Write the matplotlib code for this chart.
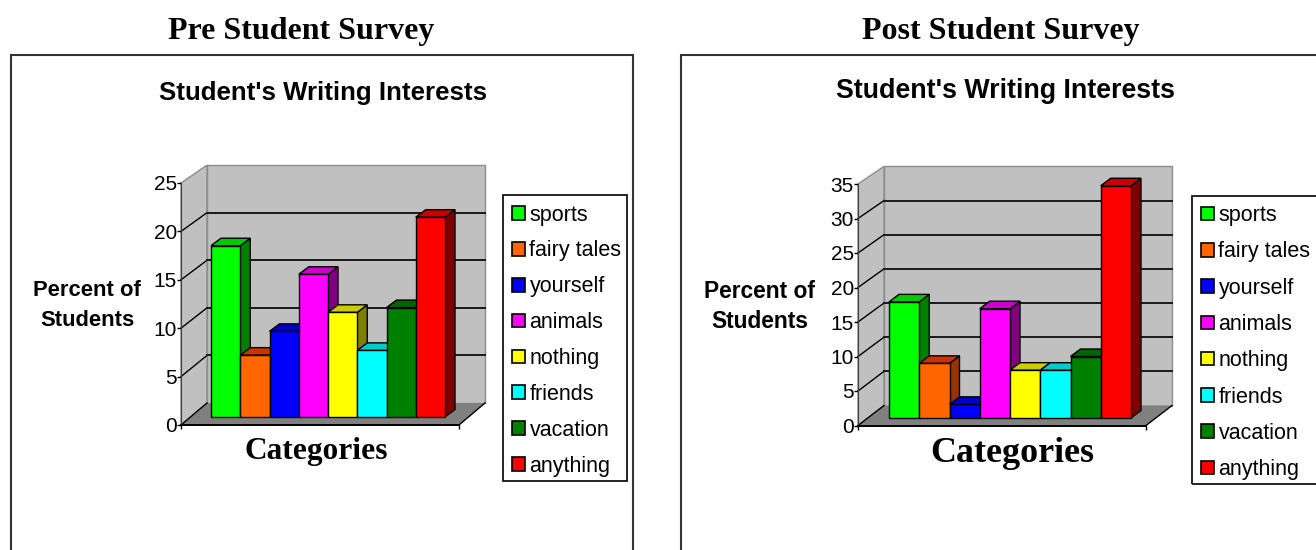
import matplotlib
matplotlib.use('Agg')
import matplotlib.pyplot as plt
from matplotlib.patches import Patch, Polygon, Rectangle

W, H = 1316, 550

categories = ['sports', 'fairy tales', 'yourself', 'animals', 'nothing', 'friends', 'vacation', 'anything']
pre_values = [18, 6.5, 9, 15, 11, 7, 11.5, 21]
post_values = [17, 8, 2, 16, 7, 7, 9, 34]
pre_ticks = [0, 5, 10, 15, 20, 25]
post_ticks = [0, 5, 10, 15, 20, 25, 30, 35]

front_colors = ['#00FF00', '#FF6600', '#0000FF', '#FF00FF', '#FFFF00', '#00FFFF', '#008000', '#FF0000']
top_colors = ['#00CC00', '#CC3300', '#0000CC', '#CC00CC', '#CCCC00', '#00CCCC', '#006600', '#CC0000']
side_colors = ['#008000', '#993300', '#000080', '#800080', '#808000', '#008080', '#004000', '#800000']

SANS = 'Liberation Sans'
SERIF = 'Liberation Serif'

fig = plt.figure(figsize=(W / 100, H / 100), dpi=100, facecolor='white')


def fx(x):
    return x / W


def fy(y):
    return 1 - y / H


def box(x0, y0, x1, y1, color, lw):
    fig.add_artist(Rectangle((fx(x0), fy(y1)), (x1 - x0) / W, (y1 - y0) / H, transform=fig.transFigure,
                             fc='none', ec=color, lw=lw, zorder=-1))


def chart(values, ticks, L, R, y0, ytop, dx, dy, k, bar_l, bar_r, base, leg_x, leg_y, leg_gap):
    n = len(values)
    w = (bar_r - bar_l) / n
    ox = dx * (y0 - base) / dy  # bar plane sits part way back on the floor
    oy = y0 - base
    ax = fig.add_axes([fx(L), fy(y0), (R - L) / W, (y0 - ytop) / H])
    ax.patch.set_visible(False)
    xmin = (L + ox - bar_l) / w - 0.5
    xmax = (R + ox - bar_l) / w - 0.5
    ymax = ticks[-1]
    ax.set_xlim(xmin, xmax)
    ax.set_ylim(0, ymax)
    ux = 1 / w
    uy = ymax / (y0 - ytop)
    bx, by = dx * ux, dy * uy

    # walls and floor, k is the slight shrink of the back wall
    ax.add_patch(Polygon([(xmin + bx, by), (xmax + bx, by), (xmax + bx, ymax * k + by), (xmin + bx, ymax * k + by)],
                         fc='#C0C0C0', ec='#8C8C8C', lw=1, clip_on=False, zorder=1))
    ax.add_patch(Polygon([(xmin, 0), (xmin + bx, by), (xmin + bx, ymax * k + by), (xmin, ymax)],
                         fc='#C0C0C0', ec='#8C8C8C', lw=1, clip_on=False, zorder=1))
    ax.add_patch(Polygon([(xmin, 0), (xmax, 0), (xmax + bx, by), (xmin + bx, by)],
                         fc='#808080', ec='none', clip_on=False, zorder=1.5))
    ax.plot([xmax, xmax + bx], [0, by], color='black', lw=1, clip_on=False, zorder=1.6)
    for t in ticks[:-1]:
        ax.plot([xmin, xmin + bx], [t, t * k + by], color='black', lw=1, clip_on=False, zorder=1.6)
        if t > 0:
            ax.plot([xmin + bx, xmax + bx], [t * k + by, t * k + by], color='#1A1A1A', lw=1.4, clip_on=False, zorder=1.6)

    # bars, left to right so each front face hides the side before it
    bdx, bdy = 10 * ux, 7.5 * uy
    sx, sy = ox * ux, oy * uy
    for i, v in enumerate(values):
        x0, x1 = i - 0.5 + sx, i + 0.5 + sx
        h = v * k
        z = 3 + i
        ax.add_patch(Polygon([(x1, sy), (x1 + bdx, sy + bdy), (x1 + bdx, sy + bdy + h), (x1, sy + h)],
                             fc=side_colors[i], ec='black', lw=1, clip_on=False, zorder=z))
        ax.add_patch(Polygon([(x0, sy + h), (x1, sy + h), (x1 + bdx, sy + h + bdy), (x0 + bdx, sy + h + bdy)],
                             fc=top_colors[i], ec='black', lw=1, clip_on=False, zorder=z))
        ax.bar(x0 + 0.5, h, width=1, bottom=sy, color=front_colors[i], edgecolor='black', lw=1,
               clip_on=False, zorder=z + 0.5)

    ax.set_yticks(ticks)
    ax.set_xticks([xmin, xmax])
    ax.set_xticklabels([])
    ax.tick_params(axis='both', length=3, width=1, color='black')
    ax.tick_params(axis='y', labelsize=15, pad=0)
    for lab in ax.get_yticklabels():
        lab.set_family(SANS)
    ax.spines['top'].set_visible(False)
    ax.spines['right'].set_visible(False)
    ax.spines['left'].set_color('#404040')
    ax.spines['left'].set_zorder(2)
    ax.spines['bottom'].set_linewidth(1.4)
    ax.spines['bottom'].set_zorder(2)

    handles = [Patch(fc=c, ec='black', lw=1.2, label=l) for c, l in zip(front_colors, categories)]
    leg = ax.legend(handles=handles, loc='upper left', bbox_to_anchor=(fx(leg_x), fy(leg_y)),
                    bbox_transform=fig.transFigure, borderaxespad=0, frameon=False,
                    prop={'family': SANS, 'size': 15.5}, handlelength=0.6,
                    handleheight=0.6, handletextpad=0.23, labelspacing=leg_gap, borderpad=0.4)
    leg.set_zorder(20)
    return ax


chart(pre_values, pre_ticks, 181, 459, 425, 183, 26, 22, 0.983, 211, 445, 417, 503, 196, 0.69)
chart(post_values, post_ticks, 858, 1146, 425.5, 184, 26, 20, 0.99, 889, 1131, 418, 1192, 196.5, 0.71)

# legend boxes, then outer frames that run off the bottom and right of the image
box(503, 195, 627, 481, 'black', 1.2)
box(1192, 196, 1330, 484, 'black', 1.2)
box(11, 55, 633, 600, '#333333', 1.5)
box(681, 55, 1330, 600, '#333333', 1.5)

fig.text(fx(301), fy(31), 'Pre Student Survey', family=SERIF, weight='bold', size=23, ha='center', va='center')
fig.text(fx(1001), fy(31), 'Post Student Survey', family=SERIF, weight='bold', size=23, ha='center', va='center')
fig.text(fx(323), fy(93), "Student's Writing Interests", family=SANS, weight='bold', size=18.6, ha='center', va='center')
fig.text(fx(1005), fy(91), "Student's Writing Interests", family=SANS, weight='bold', size=19.3, ha='center', va='center')
fig.text(fx(87), fy(290), 'Percent of', family=SANS, weight='bold', size=15.8, ha='center', va='center')
fig.text(fx(87), fy(321), 'Students', family=SANS, weight='bold', size=15.8, ha='center', va='center')
fig.text(fx(760), fy(292), 'Percent of', family=SANS, weight='bold', size=16.4, ha='center', va='center')
fig.text(fx(760), fy(322), 'Students', family=SANS, weight='bold', size=16.4, ha='center', va='center')
fig.text(fx(316), fy(452), 'Categories', family=SERIF, weight='bold', size=22.6, ha='center', va='center')
fig.text(fx(1012), fy(454), 'Categories', family=SERIF, weight='bold', size=25.9, ha='center', va='center')

fig.savefig('out.png', dpi=100)
